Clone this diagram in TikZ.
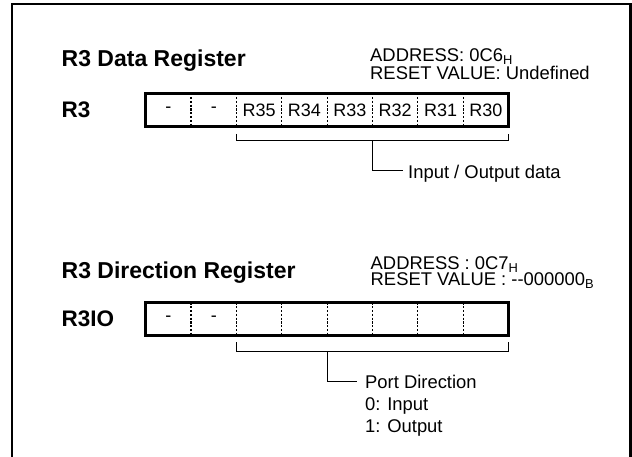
\documentclass[tikz,border=0pt]{standalone}
\usepackage{fontspec}
\setmainfont{Liberation Sans}
\begin{document}
\begin{tikzpicture}[x=1pt,y=-1pt,
  ttl/.style={font=\fontsize{23}{26}\selectfont\bfseries, anchor=base west, inner sep=0},
  lbl/.style={font=\fontsize{18.4}{20}\selectfont, anchor=base west, inner sep=0},
  reglbl/.style={font=\fontsize{22.5}{24}\selectfont\bfseries, anchor=west, inner sep=0},
  regbox/.style={draw, line width=3pt, minimum width=362.7pt, minimum height=33.6pt, inner sep=0, outer sep=0, anchor=north west},
  divline/.style={line width=1.3pt, dash pattern=on 2.2pt off 1.6pt},
  cell/.style={font=\fontsize{18}{20}\selectfont, inner sep=0},
  brk/.style={line width=1pt}]
\useasboundingbox (0,0) rectangle (632,457);
% outer frame
\coordinate (fbl) at (12,462);
\coordinate (ftl) at (12,4);
\coordinate (ftr) at (630.5,4);
\coordinate (fbr) at (630.5,462);
\draw[line width=2.2pt] (fbl) -- (ftl) -- (ftr) -- (fbr);

% ---------- R3 Data Register ----------
\node[ttl] (t1) at (61.5,66.7) {R3 Data Register};
\node[lbl] (a1) at (370,61.7) {ADDRESS: 0C6\textsubscript{H}};
\node[lbl] (r1) at (370,79.3) {RESET VALUE: Undefined};
\node[reglbl] (l1) at (61.5,110) {R3};
\node[regbox] (b1) at (145.8,93.2) {};
\foreach \k/\t in {0/-,1/-,2/R35,3/R34,4/R33,5/R32,6/R31,7/R30}{
  \node[cell] (c1\k) at ({145.8+45.34*(\k+0.5)},110) {\t};
}
\foreach \k in {1,...,7}{
  \coordinate (d1t\k) at ({145.8+45.34*\k},93.2);
  \coordinate (d1b\k) at ({145.8+45.34*\k},126.8);
  \draw[divline] (d1t\k) -- (d1b\k);
}
\coordinate (k1l) at (236.5,134);
\coordinate (k1lb) at (236.5,140.7);
\coordinate (k1r) at (508.5,134);
\coordinate (k1rb) at (508.5,140.7);
\coordinate (k1m) at (372.5,140.7);
\coordinate (k1c) at (372.5,171);
\coordinate (k1e) at (403.3,171);
\draw[brk] (k1l) -- (k1lb) -- (k1rb) -- (k1r);
\draw[brk] (k1m) -- (k1c) -- (k1e);
\node[lbl] (io) at (408,178.3) {Input / Output data};

% ---------- R3 Direction Register ----------
\node[ttl] (t2) at (61.5,278.3) {R3 Direction Register};
\node[lbl] (a2) at (370.5,269.3) {ADDRESS : 0C7\textsubscript{H}};
\node[lbl] (r2) at (370.5,285.3) {RESET VALUE : -{}-000000\textsubscript{B}};
\node[reglbl] (l2) at (61.5,319) {R3IO};
\node[regbox] (b2) at (145.8,302.3) {};
\foreach \k/\t in {0/-,1/-}{
  \node[cell] (c2\k) at ({145.8+45.34*(\k+0.5)},319) {\t};
}
\foreach \k in {1,...,7}{
  \coordinate (d2t\k) at ({145.8+45.34*\k},302.3);
  \coordinate (d2b\k) at ({145.8+45.34*\k},335.9);
  \draw[divline] (d2t\k) -- (d2b\k);
}
\coordinate (k2l) at (236.5,342);
\coordinate (k2lb) at (236.5,351);
\coordinate (k2r) at (508.5,342);
\coordinate (k2rb) at (508.5,351);
\coordinate (k2m) at (327.2,351);
\coordinate (k2c) at (327.2,381);
\coordinate (k2e) at (357,381);
\draw[brk] (k2l) -- (k2lb) -- (k2rb) -- (k2r);
\draw[brk] (k2m) -- (k2c) -- (k2e);
\node[lbl] (pd) at (365,388) {Port Direction};
\node[lbl] (p0) at (365,410.3) {0: Input};
\node[lbl] (p1) at (365,432) {1: Output};
\end{tikzpicture}
\end{document}
